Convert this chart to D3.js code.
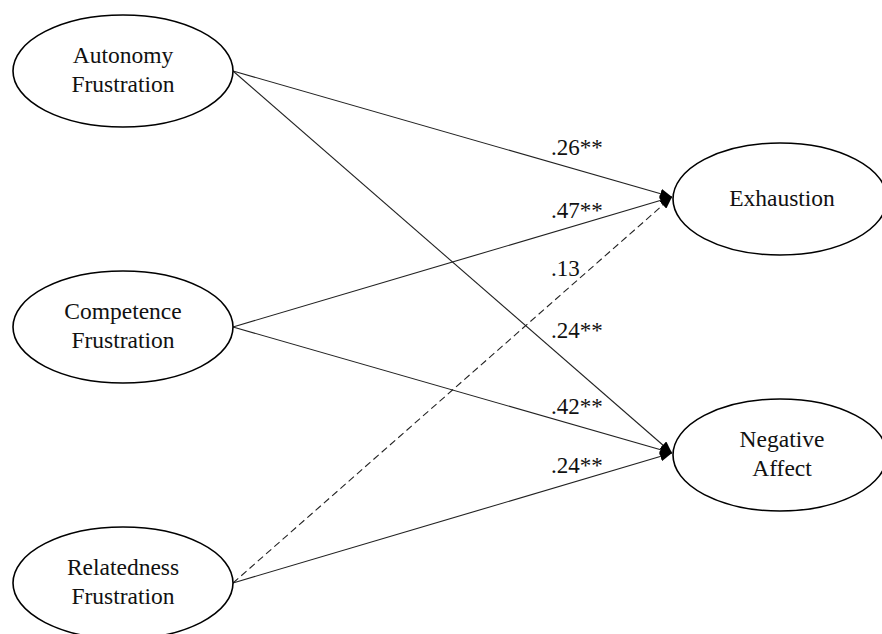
<!DOCTYPE html>
<html>
<head>
<meta charset="utf-8">
<script src="https://cdn.jsdelivr.net/npm/d3@7"></script>
<style>
  html, body { margin: 0; padding: 0; background: #fff; }
  svg { display: block; }
</style>
</head>
<body>
<div id="chart"></div>
<script>
// Model variables
const predictors = ["Autonomy Frustration", "Competence Frustration", "Relatedness Frustration"];
const outcomes = ["Exhaustion", "Negative Affect"];

// Paths (standardized coefficients)
const pathFrom = ["Autonomy Frustration", "Competence Frustration", "Relatedness Frustration",
                  "Autonomy Frustration", "Competence Frustration", "Relatedness Frustration"];
const pathTo = ["Exhaustion", "Exhaustion", "Exhaustion",
                "Negative Affect", "Negative Affect", "Negative Affect"];
const coefficients = [".26", ".47", ".13", ".24", ".42", ".24"];
const significance = ["**", "**", "", "**", "**", "**"];

// label offsets above each path (layout only)
const labelDy = [15, 7, 5, 32, 12, 8];

const width = 882, height = 634;
const rx = 110, ry = 56, rxOut = 107;
const serif = "'Liberation Serif'";

const x = d3.scalePoint().domain(["predictor", "outcome"]).range([123, 780]);
const y = d3.scaleLinear().domain([0, 2]).range([71, 583]);

const nodes = predictors.map((name, i) => ({ name, cx: x("predictor"), cy: y(i), rx: rx }))
  .concat(outcomes.map((name, j) => ({ name, cx: x("outcome"), cy: y(j + 0.5), rx: rxOut })));
const byName = {};
nodes.forEach(n => byName[n.name] = n);

const svg = d3.select("#chart")
  .append("svg")
  .attr("width", width)
  .attr("height", height);

svg.append("defs").append("marker")
  .attr("id", "arrow")
  .attr("markerUnits", "userSpaceOnUse")
  .attr("viewBox", "0 0 12 10")
  .attr("refX", 12)
  .attr("refY", 5)
  .attr("markerWidth", 12)
  .attr("markerHeight", 10)
  .attr("orient", "auto")
  .append("path")
  .attr("d", "M0,0 L12,5 L0,10 Z")
  .attr("fill", "#000");

const paths = pathFrom.map((f, i) => {
  const a = byName[f], b = byName[pathTo[i]];
  return {
    x1: a.cx + a.rx, y1: a.cy,
    x2: b.cx - b.rx - 1, y2: b.cy - 2,
    coef: coefficients[i], sig: significance[i], dy: labelDy[i]
  };
});

// paths
svg.selectAll("line.path")
  .data(paths)
  .enter().append("line")
  .attr("class", "path")
  .attr("x1", d => d.x1)
  .attr("y1", d => d.y1)
  .attr("x2", d => d.x2)
  .attr("y2", d => d.y2)
  .attr("stroke", "#222")
  .attr("stroke-width", 1.1)
  .attr("stroke-dasharray", d => d.sig ? null : "7,4")
  .attr("marker-end", "url(#arrow)");

// coefficient labels
const labelX = 551;
svg.selectAll("text.coef")
  .data(paths)
  .enter().append("text")
  .attr("class", "coef")
  .attr("x", labelX)
  .attr("y", d => {
    const t = (labelX + 26 - d.x1) / (d.x2 - d.x1);
    return d.y1 + t * (d.y2 - d.y1) - d.dy;
  })
  .style("font-family", serif)
  .style("font-size", "23px")
  .style("fill", "#111")
  .text(d => d.coef + d.sig);

// ellipses
const g = svg.selectAll("g.node")
  .data(nodes)
  .enter().append("g")
  .attr("class", "node");

g.append("ellipse")
  .attr("cx", d => d.cx)
  .attr("cy", d => d.cy)
  .attr("rx", d => d.rx)
  .attr("ry", ry)
  .attr("fill", "#fff")
  .attr("stroke", "#000")
  .attr("stroke-width", 1.6);

g.each(function(d) {
  const lines = d.name.split(" ");
  const t = d3.select(this).append("text")
    .attr("text-anchor", "middle")
    .style("font-family", serif)
    .style("font-size", "23.5px")
    .style("fill", "#111");
  lines.forEach((l, i) => {
    t.append("tspan")
      .attr("x", d.cx + (d.rx === rxOut ? 2 : 0))
      .attr("y", d.cy + 6.5 + (i - (lines.length - 1) / 2) * 29)
      .text(l);
  });
});
</script>
</body>
</html>
